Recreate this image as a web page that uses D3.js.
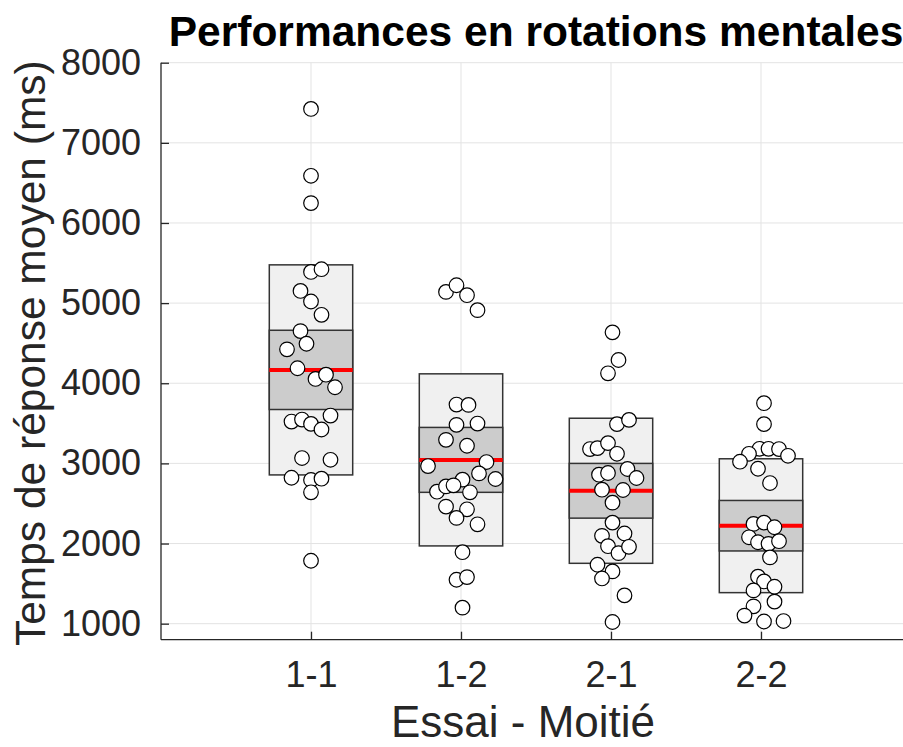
<!DOCTYPE html>
<html>
<head>
<meta charset="utf-8">
<script src="https://cdn.jsdelivr.net/npm/d3@7"></script>
<style>
  html, body { margin: 0; padding: 0; background: #ffffff; }
  svg { display: block; }
  text { font-family: "Liberation Sans", Arial, Helvetica, sans-serif; fill: #262626; }
</style>
</head>
<body>
<svg id="chart" width="903" height="747"></svg>
<script>
// Conditions (essai - moitié)
const categories = ["1-1", "1-2", "2-1", "2-2"];

// Mean response time per participant (ms), one array per condition
const rt11 = [7423, 6589, 6248, 5389, 5423, 5152, 5020, 4854, 4651, 4493, 4423, 4187, 4054, 4107,
              3950, 3522, 3547, 3493, 3423, 3597, 3067, 3045, 2821, 2793, 2809, 2639, 1785];
const rt12 = [5140, 5223, 5099, 4912, 3734, 3730, 3481, 3497, 3294, 3220, 2967, 3017, 2875, 2805,
              2797, 2647, 2713, 2726, 2639, 2461, 2427, 2320, 2240, 1892, 1548, 1581, 1200];
const rt21 = [4635, 4290, 4124, 3490, 3543, 3179, 3191, 3253, 3120, 2859, 2880, 2930, 2818, 2672,
              2668, 2510, 2261, 2096, 2125, 1967, 1880, 1959, 1735, 1652, 1564, 1353, 1021];
const rt22 = [3751, 3490, 3182, 3182, 3179, 3120, 3095, 3021, 2933, 2755, 2245, 2261, 2203, 2078,
              2016, 1996, 2029, 1827, 1586, 1527, 1461, 1415, 1275, 1216, 1101, 1027, 1033];

// Horizontal jitter of each point, in category units
const jit11 = [0, 0, 0, 0, 0.07, -0.07, 0, 0.07, -0.07, -0.03, -0.16, -0.09, 0.03, 0.10,
               0.16, -0.13, -0.06, 0, 0.07, 0.13, -0.06, 0.13, -0.13, 0, 0.07, 0, 0];
const jit12 = [-0.10, -0.03, 0.04, 0.11, -0.03, 0.05, -0.03, 0.11, -0.10, 0.04, -0.22, 0.17, 0.12, 0.23,
               0.01, -0.16, -0.10, -0.05, 0.06, -0.10, 0.04, -0.03, 0.11, 0.01, -0.03, 0.04, 0.01];
const jit21 = [0.01, 0.05, -0.02, 0.04, 0.12, -0.14, -0.09, -0.02, 0.04, -0.08, -0.02, 0.11, 0.17, -0.06,
               0.08, 0.01, 0.01, -0.06, 0.09, -0.02, 0.05, 0.12, -0.09, 0.01, -0.06, 0.09, 0.01];
const jit22 = [0.02, 0.02, -0.01, 0.05, 0.12, -0.08, 0.18, -0.14, -0.02, 0.06, -0.05, 0.02, 0.09, -0.08,
               -0.02, 0.05, 0.12, 0.06, -0.02, 0.02, 0.09, -0.05, 0.09, -0.05, -0.11, 0.02, 0.15];

const yTicks = [1000, 2000, 3000, 4000, 5000, 6000, 7000, 8000];

const titleText = "Performances en rotations mentales";
const xLabelText = "Essai - Moitié";
const yLabelText = "Temps de réponse moyen (ms)";

const series = [rt11, rt12, rt21, rt22];
const jitters = [jit11, jit12, jit21, jit22];

// Summary per condition: mean, ±1 SD box and ±1.96 SEM box
const stats = series.map(v => {
  const m = d3.mean(v), sd = d3.deviation(v), sem = sd / Math.sqrt(v.length);
  return { mean: m, sd: sd, ci: 1.96 * sem };
});

const svg = d3.select("#chart");
const plotL = 161, plotR = 911, plotT = 62.7, plotB = 639.7;

const x = d3.scaleLinear().domain([0, categories.length + 1]).range([plotL, plotR]);
const y = d3.scaleLinear().domain([800, 8000]).range([plotB, plotT]);
const halfW = 0.278;

// Grid
const grid = svg.append("g");
grid.selectAll("line.gy").data(yTicks).join("line")
  .attr("x1", plotL).attr("x2", plotR)
  .attr("y1", d => y(d)).attr("y2", d => y(d))
  .attr("stroke", "#e3e3e3").attr("stroke-width", 1);
grid.selectAll("line.gx").data(categories).join("line")
  .attr("x1", (d, i) => x(i + 1)).attr("x2", (d, i) => x(i + 1))
  .attr("y1", plotT).attr("y2", plotB)
  .attr("stroke", "#e3e3e3").attr("stroke-width", 1);

// Boxes
const boxes = svg.append("g").selectAll("g").data(stats).join("g");
boxes.append("rect")
  .attr("x", (d, i) => x(i + 1 - halfW))
  .attr("width", (d, i) => x(i + 1 + halfW) - x(i + 1 - halfW))
  .attr("y", d => y(d.mean + d.sd))
  .attr("height", d => y(d.mean - d.sd) - y(d.mean + d.sd))
  .attr("fill", "#f0f0f0").attr("stroke", "#333333").attr("stroke-width", 1.5);
boxes.append("rect")
  .attr("x", (d, i) => x(i + 1 - halfW))
  .attr("width", (d, i) => x(i + 1 + halfW) - x(i + 1 - halfW))
  .attr("y", d => y(d.mean + d.ci))
  .attr("height", d => y(d.mean - d.ci) - y(d.mean + d.ci))
  .attr("fill", "#cccccc").attr("stroke", "#333333").attr("stroke-width", 1.5);
boxes.append("line")
  .attr("x1", (d, i) => x(i + 1 - halfW))
  .attr("x2", (d, i) => x(i + 1 + halfW))
  .attr("y1", d => y(d.mean)).attr("y2", d => y(d.mean))
  .attr("stroke", "#ff0000").attr("stroke-width", 4);

// Individual points
const pts = [];
series.forEach((v, g) => v.forEach((val, k) => pts.push({ g: g, v: val, j: jitters[g][k] })));
svg.append("g").selectAll("circle").data(pts).join("circle")
  .attr("cx", d => x(d.g + 1 + d.j))
  .attr("cy", d => y(d.v))
  .attr("r", 7.3)
  .attr("fill", "#ffffff").attr("stroke", "#000000").attr("stroke-width", 1.2);

// Axes
const yAxis = d3.axisLeft(y).tickValues(yTicks).tickSize(-8).tickPadding(20).tickFormat(d3.format("d"));
const gy = svg.append("g").attr("transform", `translate(${plotL},0)`).call(yAxis);
gy.select(".domain").attr("d", `M0,${plotT}V${plotB}`).attr("stroke", "#262626").attr("stroke-width", 1.3);
gy.selectAll(".tick line").attr("stroke", "#262626").attr("stroke-width", 1.3);
gy.selectAll(".tick text").attr("font-size", 36).attr("fill", "#262626")
  .attr("font-family", "Liberation Sans, Arial, sans-serif");

const xAxis = d3.axisBottom(x).tickValues([1, 2, 3, 4]).tickSize(-8).tickPadding(22)
  .tickFormat(d => categories[d - 1]);
const gx = svg.append("g").attr("transform", `translate(0,${plotB})`).call(xAxis);
gx.select(".domain").attr("d", `M${plotL},0H${plotR}`).attr("stroke", "#262626").attr("stroke-width", 1.3);
gx.selectAll(".tick line").attr("stroke", "#262626").attr("stroke-width", 1.3);
gx.selectAll(".tick text").attr("font-size", 36).attr("fill", "#262626")
  .attr("font-family", "Liberation Sans, Arial, sans-serif");

// Titles
svg.append("text")
  .attr("x", (plotL + plotR) / 2).attr("y", 46)
  .attr("text-anchor", "middle")
  .attr("font-size", 42.5).attr("font-weight", "bold").style("fill", "#000000")
  .text(titleText);

svg.append("text")
  .attr("x", 523).attr("y", 737)
  .attr("text-anchor", "middle")
  .attr("font-size", 44)
  .text(xLabelText);

svg.append("text")
  .attr("transform", `translate(45,${(plotT + plotB) / 2 + 2}) rotate(-90)`)
  .attr("text-anchor", "middle")
  .attr("font-size", 42.5)
  .text(yLabelText);
</script>
</body>
</html>
